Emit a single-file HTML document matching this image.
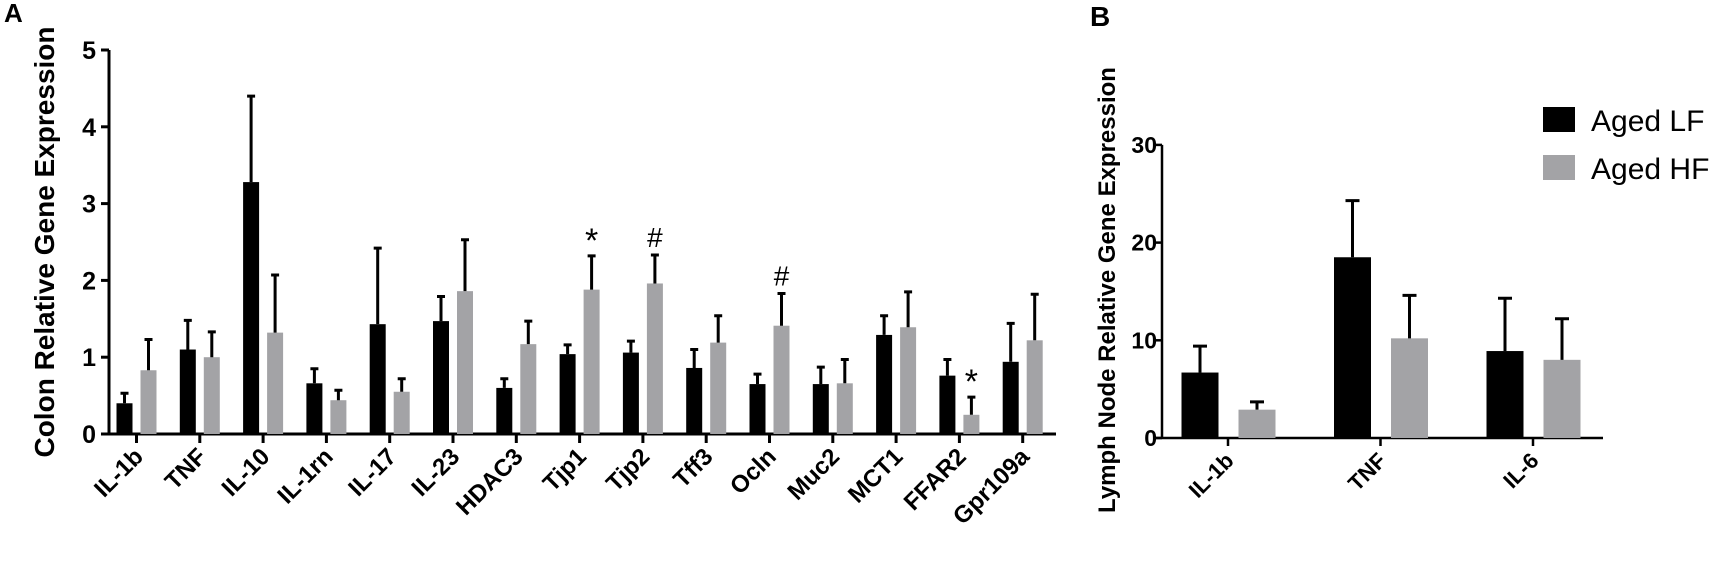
<!DOCTYPE html>
<html><head><meta charset="utf-8"><style>
body{margin:0;background:#fff;}
svg{display:block;font-family:"Liberation Sans",Arial,sans-serif;}
</style></head><body>
<svg id="chart" width="1720" height="564" viewBox="0 0 1720 564"></svg>
<script>
const catsA = ["IL-1b","TNF","IL-10","IL-1rn","IL-17","IL-23","HDAC3","Tjp1","Tjp2","Tff3","Ocln","Muc2","MCT1","FFAR2","Gpr109a"];
const lfA = [0.40,1.10,3.28,0.66,1.43,1.47,0.60,1.04,1.06,0.86,0.65,0.65,1.29,0.76,0.94];
const lfAErr = [0.53,1.48,4.40,0.85,2.42,1.79,0.72,1.16,1.21,1.10,0.78,0.87,1.54,0.97,1.44];
const hfA = [0.83,1.00,1.32,0.44,0.55,1.86,1.17,1.88,1.96,1.19,1.41,0.66,1.39,0.25,1.22];
const hfAErr = [1.23,1.33,2.07,0.57,0.72,2.53,1.47,2.32,2.33,1.54,1.83,0.97,1.85,0.48,1.82];
const marksA = ["","","","","","","","*","#","","#","","","*",""];
const ticksA = [0,1,2,3,4,5];
const catsB = ["IL-1b","TNF","IL-6"];
const lfB = [6.7,18.5,8.9];
const lfBErr = [9.4,24.3,14.3];
const hfB = [2.9,10.2,8.0];
const hfBErr = [3.7,14.6,12.2];
const ticksB = [0,10,20,30];

const svg = document.getElementById('chart');
const NS = 'http://www.w3.org/2000/svg';
function mk(tag, attrs, parent){const e=document.createElementNS(NS,tag);for(const k in attrs)e.setAttribute(k,attrs[k]);(parent||svg).appendChild(e);return e;}

// Panel A axes
const yA = v => 434 - v*76.8;
const xA = i => 136.5 + i*63.3;
const gA = mk('g',{});


let t = mk('text',{x:4,y:22,'font-size':26,'font-weight':'bold'},gA); t.textContent='A';
 
t = mk('text',{transform:'translate(54,242) rotate(-90)','text-anchor':'middle','font-size':28,'font-weight':'bold'},gA);
t.textContent='Colon Relative Gene Expression';
 
let l = mk('line',{x1:109,y1:yA(5),x2:109,y2:435.5,stroke:'#000','stroke-width':3},gA);
 
l = mk('line',{x1:107.5,y1:434,x2:1056,y2:434,stroke:'#000','stroke-width':3},gA);
 
ticksA.forEach(v=>{
  const tk = mk('line',{x1:101,y1:yA(v),x2:109,y2:yA(v),stroke:'#000','stroke-width':3},gA);
   
  const tl = mk('text',{x:96,y:yA(v)+9,'text-anchor':'end','font-size':25,'font-weight':'bold'},gA);
  tl.textContent=v;
   
});
function bar(g,cx,w,v,e,y,fill,name,capw){
  const r = mk('rect',{x:cx-w/2,y:y(v),width:w,height:y(0)-y(v),fill:fill},g);
   
  const eb = mk('path',{d:`M${cx},${y(v)}V${y(e)}M${cx-capw/2},${y(e)}H${cx+capw/2}`,stroke:'#000','stroke-width':3,fill:'none'},g);
   
}
catsA.forEach((c,i)=>{
  const cx = xA(i);
  bar(gA,cx-12,16,lfA[i],lfAErr[i],yA,'#000','bar-lf-'+c.toLowerCase(),8);
  bar(gA,cx+12,16,hfA[i],hfAErr[i],yA,'#a3a3a6','bar-hf-'+c.toLowerCase(),8);
  const tk = mk('line',{x1:cx,y1:434,x2:cx,y2:443,stroke:'#000','stroke-width':3},gA);
   
  const tl = mk('text',{transform:`translate(${cx+8},${458}) rotate(-45)`,'text-anchor':'end','font-size':24,'font-weight':'bold'},gA);
  tl.textContent=c;
   
  if(marksA[i]){
    const m = mk('text',{x:cx+12,y:yA(hfAErr[i])-(marksA[i]=='*'?4:8),'text-anchor':'middle','font-size':marksA[i]=='*'?34:28},gA);
    m.textContent=marksA[i];
     
  }
});

// Panel B
const yB = v => 438 - v*9.77;
const xB = i => 1228 + i*152.5;
const gB = mk('g',{});


t = mk('text',{x:1090,y:26,'font-size':28,'font-weight':'bold'},gB); t.textContent='B';
 
t = mk('text',{transform:'translate(1115,290) rotate(-90)','text-anchor':'middle','font-size':24,'font-weight':'bold'},gB);
t.textContent='Lymph Node Relative Gene Expression';
 
l = mk('line',{x1:1162,y1:yB(30),x2:1162,y2:439,stroke:'#000','stroke-width':2.5},gB);
 
l = mk('line',{x1:1153,y1:438,x2:1603,y2:438,stroke:'#000','stroke-width':2.5},gB);
 
ticksB.forEach(v=>{
  const tk = mk('line',{x1:1155,y1:yB(v),x2:1162,y2:yB(v),stroke:'#000','stroke-width':2.5},gB);
   
  const tl = mk('text',{x:1157,y:yB(v)+8,'text-anchor':'end','font-size':23,'font-weight':'bold'},gB);
  tl.textContent=v;
   
});
catsB.forEach((c,i)=>{
  const cx = xB(i);
  bar(gB,cx-28,37,lfB[i],lfBErr[i],yB,'#000','bar-lf-'+c.toLowerCase(),14);
  bar(gB,cx+29,37,hfB[i],hfBErr[i],yB,'#a3a3a6','bar-hf-'+c.toLowerCase(),14);
  const tk = mk('line',{x1:cx,y1:438,x2:cx,y2:446,stroke:'#000','stroke-width':2.5},gB);
   
  const tl = mk('text',{transform:`translate(${cx+7},${462}) rotate(-45)`,'text-anchor':'end','font-size':22,'font-weight':'bold'},gB);
  tl.textContent=c;
   
});
// Legend
const lg = mk('g',{});


[['Aged LF','#000',107],['Aged HF','#a3a3a6',155]].forEach(([name,col,y])=>{
  const e = mk('g',{},lg);
  
  
  mk('rect',{x:1543,y:y,width:32,height:25,fill:col},e);
  const tx = mk('text',{x:1591,y:y+24,'font-size':30},e);
  tx.textContent=name;
});
</script>
</body></html>
